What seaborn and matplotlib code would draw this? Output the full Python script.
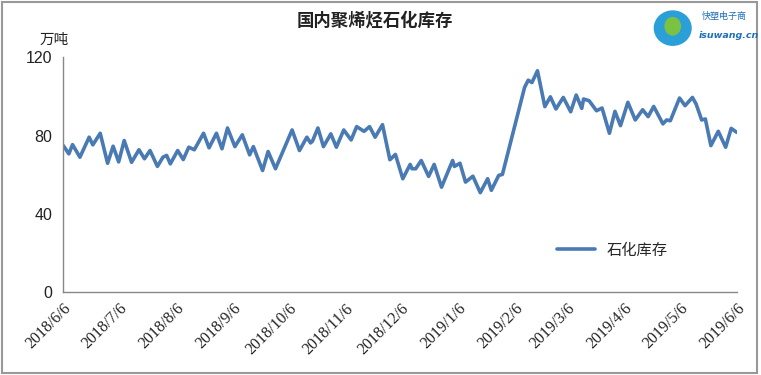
import pandas as pd
import seaborn as sns
import matplotlib.pyplot as plt
import matplotlib.dates as mdates
from matplotlib.patches import Rectangle, Ellipse

# days after 2018/6/6 for each point
day_offsets = [
    0, 3, 5, 9, 14, 16, 20, 24, 27, 30, 33, 37, 41, 44, 47, 51, 54, 56, 58, 62,
    65, 68, 71, 76, 79, 83, 86, 89, 93, 97, 101, 103, 108, 111, 115, 124, 128,
    132, 134, 135, 138, 141, 145, 148, 152, 156, 159, 163, 166, 169, 173, 177,
    180, 184, 188, 189, 191, 194, 198, 201, 205, 211, 212, 215, 218, 222, 226,
    230, 232, 236, 238, 250, 252, 254, 257, 261, 264, 267, 271, 275, 278, 281,
    282, 285, 289, 292, 296, 299, 302, 306, 310, 314, 317, 320, 325, 327, 329,
    334, 337, 341, 343, 346, 348, 351, 355, 359, 362, 365,
]
# 石化库存 (万吨)
stock = [
    74.9, 70.7, 75.4, 69.0, 79.2, 75.3, 81.2, 65.9, 74.6, 66.6, 77.5, 66.4, 72.8,
    68.2, 72.4, 64.3, 69.0, 69.9, 65.6, 72.4, 67.8, 74.1, 72.8, 81.2, 73.8, 81.2,
    73.3, 83.9, 74.4, 80.4, 70.2, 74.4, 62.2, 71.9, 63.1, 82.9, 72.4,
    79.2, 76.3, 77.1, 83.9, 74.4, 80.9, 74.1, 82.9, 77.8, 84.6, 82.2, 84.6, 79.2,
    85.6, 67.7, 70.4, 58.0, 65.3, 63.1, 63.1, 67.3, 59.2, 65.3, 53.7, 67.3, 64.3,
    65.9, 56.3, 59.3, 50.9, 58.0, 52.1, 59.7, 60.2,
    104.6, 108.3, 107.1, 113.1, 94.8, 99.8, 93.6, 99.5, 92.2, 100.7, 93.9, 98.7,
    97.8, 92.7, 94.1, 81.2, 92.4, 85.1, 97.0, 88.0, 93.2, 89.7, 94.9, 86.0, 88.0,
    87.6, 99.2, 95.3, 99.5, 96.1, 88.0, 88.5, 74.9, 82.2, 74.1, 83.7, 81.7,
]
start_date = "2018-06-06"
tick_labels = [
    "2018/6/6", "2018/7/6", "2018/8/6", "2018/9/6", "2018/10/6", "2018/11/6",
    "2018/12/6", "2019/1/6", "2019/2/6", "2019/3/6", "2019/4/6", "2019/5/6",
    "2019/6/6",
]
y_ticks = [0, 40, 80, 120]

line_color = "#4a7ab4"

sns.set_style("white")
plt.rcParams["font.family"] = ["Noto Sans CJK SC", "DejaVu Sans"]

df = pd.DataFrame({
    "date": pd.Timestamp(start_date) + pd.to_timedelta(day_offsets, unit="D"),
    "石化库存": stock,
})
tick_dates = pd.to_datetime(tick_labels, format="%Y/%m/%d")

fig = plt.figure(figsize=(7.61, 3.75), dpi=100)
ax = fig.add_axes([0.0832, 0.2203, 0.8849, 0.627])

sns.lineplot(data=df, x="date", y="石化库存", ax=ax, color=line_color,
             linewidth=2.6, label="石化库存")

ax.set_xlim(tick_dates[0], tick_dates[-1])
ax.set_ylim(0, 120)
ax.set_yticks(y_ticks)
ax.set_xticks(tick_dates)
ax.set_xticklabels(tick_labels)
ax.set_xlabel("")
ax.set_ylabel("")

for lab in ax.get_xticklabels():
    lab.set_rotation(45)
    lab.set_ha("right")
    lab.set_va("top")
    lab.set_rotation_mode("anchor")
    lab.set_family(["Liberation Serif"])
    lab.set_fontsize(11.5)
    lab.set_color("#222222")
for lab in ax.get_yticklabels():
    lab.set_family(["Liberation Sans"])
    lab.set_fontsize(11.5)
    lab.set_color("#222222")

ax.tick_params(axis="both", direction="in", length=4, width=0.8, color="#888888")
ax.tick_params(axis="y", pad=8)
ax.tick_params(axis="x", pad=6)
sns.despine(ax=ax)
for side in ("left", "bottom"):
    ax.spines[side].set_color("#888888")
    ax.spines[side].set_linewidth(1.0)

ax.legend(loc="center left", bbox_to_anchor=(0.712, 0.18), frameon=False,
          handlelength=2.5, fontsize=11)

fig.text(0.493, 0.945, "国内聚烯烃石化库存", ha="center", va="center",
         fontsize=12.5, fontweight="bold", color="#222222")
fig.text(0.052, 0.893, "万吨", ha="left", va="center", fontsize=10.5, color="#222222")

# logo at top right
fig.patches.append(Ellipse((0.884, 0.925), 0.05, 0.095, transform=fig.transFigure,
                           facecolor="#2a9fd8", edgecolor="none"))
fig.patches.append(Ellipse((0.884, 0.93), 0.022, 0.05, transform=fig.transFigure,
                           facecolor="#7cc242", edgecolor="none"))
fig.text(0.922, 0.955, "快塑电子商", ha="left", va="center", fontsize=6.5,
         color="#1f6fb8", style="italic")
fig.text(0.918, 0.905, "isuwang.cn", ha="left", va="center", fontsize=6.8,
         color="#1f6fb8", style="italic", fontweight="bold", family=["DejaVu Sans"])

fig.patches.append(Rectangle((0.002, 0.005), 0.993, 0.99, transform=fig.transFigure,
                             fill=False, edgecolor="#999999", linewidth=1.5))

fig.savefig("out.png", dpi=100)
